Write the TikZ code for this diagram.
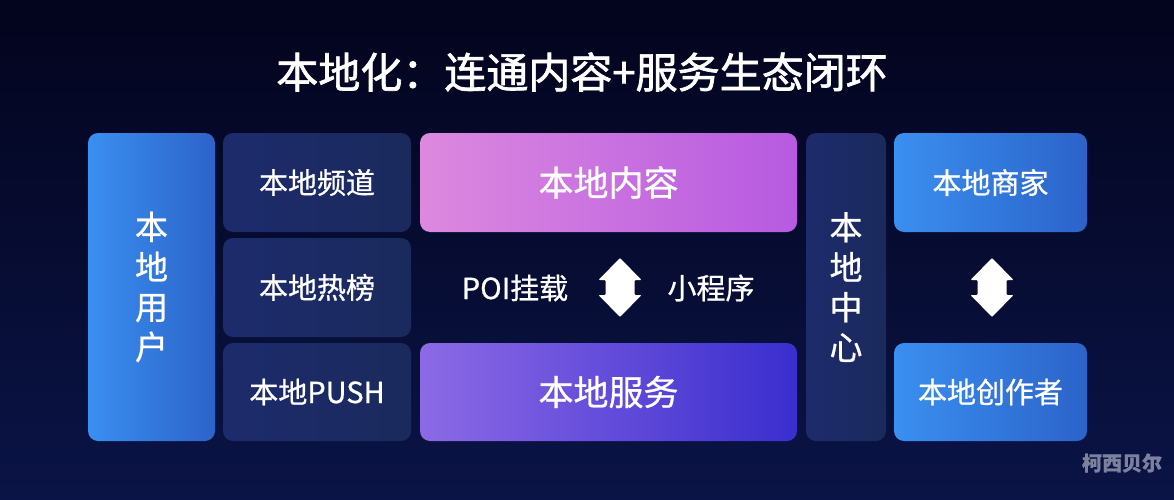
\documentclass[tikz,border=0pt]{standalone}
\usepackage{fontspec}
\newfontfamily\cjk[FakeBold=0.8]{Noto Sans CJK SC}
\newfontfamily\cjktitle[FakeBold=1.6]{Noto Sans CJK SC}
\definecolor{bgtop}{HTML}{03041D}
\definecolor{bgbot}{HTML}{0A1446}
\definecolor{bluel}{HTML}{3A8FF0}
\definecolor{bluer}{HTML}{2C63C9}
\definecolor{navyl}{HTML}{1D2B6C}
\definecolor{navyr}{HTML}{1A2A5C}
\definecolor{pinkl}{HTML}{DC89DF}
\definecolor{pinkr}{HTML}{B75AE1}
\definecolor{violl}{HTML}{8C6AE6}
\definecolor{violr}{HTML}{3A2ECE}
\definecolor{markgray}{HTML}{7D829C}
\begin{document}
\begin{tikzpicture}[x=1pt,y=-1pt,
    box/.style={rounded corners=10pt, inner sep=0pt, text=white,
        font=\cjk\fontsize{29}{34}\selectfont},
    bluebox/.style={box, left color=bluel, right color=bluer},
    navybox/.style={box, left color=navyl, right color=navyr},
    tallbox/.style={align=center, font=\cjk\fontsize{33}{40}\selectfont}
]
    % 背景
    \shade[top color=bgtop, bottom color=bgbot] (0,0) rectangle (1174,500);

    % 标题
    \node[text=white, font=\cjktitle\fontsize{42}{48}\selectfont] (title) at (582,72) {本地化：连通内容+服务生态闭环};

    % 左侧：本地用户
    \node[bluebox, tallbox, minimum width=127pt, minimum height=308pt] (user) at (151.5,287) {本\\地\\用\\户};

    % 三个入口
    \node[navybox, minimum width=188pt, minimum height=99pt] (channel) at (317,182.5) {本地频道};
    \node[navybox, minimum width=188pt, minimum height=99pt] (hot) at (317,287.5) {本地热榜};
    \node[navybox, minimum width=188pt, minimum height=98pt] (push) at (317,392) {本地PUSH};

    % 中间：内容与服务
    \node[box, left color=pinkl, right color=pinkr, minimum width=377pt, minimum height=99pt,
        font=\cjk\fontsize{35}{40}\selectfont] (content) at (608.5,182.5) {本地内容};
    \node[box, left color=violl, right color=violr, minimum width=377pt, minimum height=98pt,
        font=\cjk\fontsize{35}{40}\selectfont] (service) at (608.5,392) {本地服务};
    \node[text=white, font=\cjk\fontsize{29}{34}\selectfont] (poi) at (515,288) {POI挂载};
    \node[text=white, font=\cjk\fontsize{29}{34}\selectfont] (mini) at (711,288) {小程序};

    % 本地中心
    \node[navybox, tallbox, minimum width=80pt, minimum height=308pt] (center) at (846,287) {本\\地\\中\\心};

    % 右侧：商家与创作者
    \node[bluebox, minimum width=193pt, minimum height=99pt] (shop) at (990.5,182.5) {本地商家};
    \node[bluebox, minimum width=193pt, minimum height=98pt] (author) at (990.5,392) {本地创作者};

    % 双向箭头
    \foreach \cx in {620,992} {
        \fill[white, rounded corners=1pt] (\cx,258) -- (\cx+21.5,280) -- (\cx+14.5,280) -- (\cx+14.5,295)
            -- (\cx+21.5,295) -- (\cx,317) -- (\cx-21.5,295) -- (\cx-14.5,295)
            -- (\cx-14.5,280) -- (\cx-21.5,280) -- cycle;
    }

    % 水印
    \node[text=markgray, font=\cjk\bfseries\fontsize{20}{24}\selectfont] (mark) at (1122,463) {柯西贝尔};
\end{tikzpicture}
\end{document}
